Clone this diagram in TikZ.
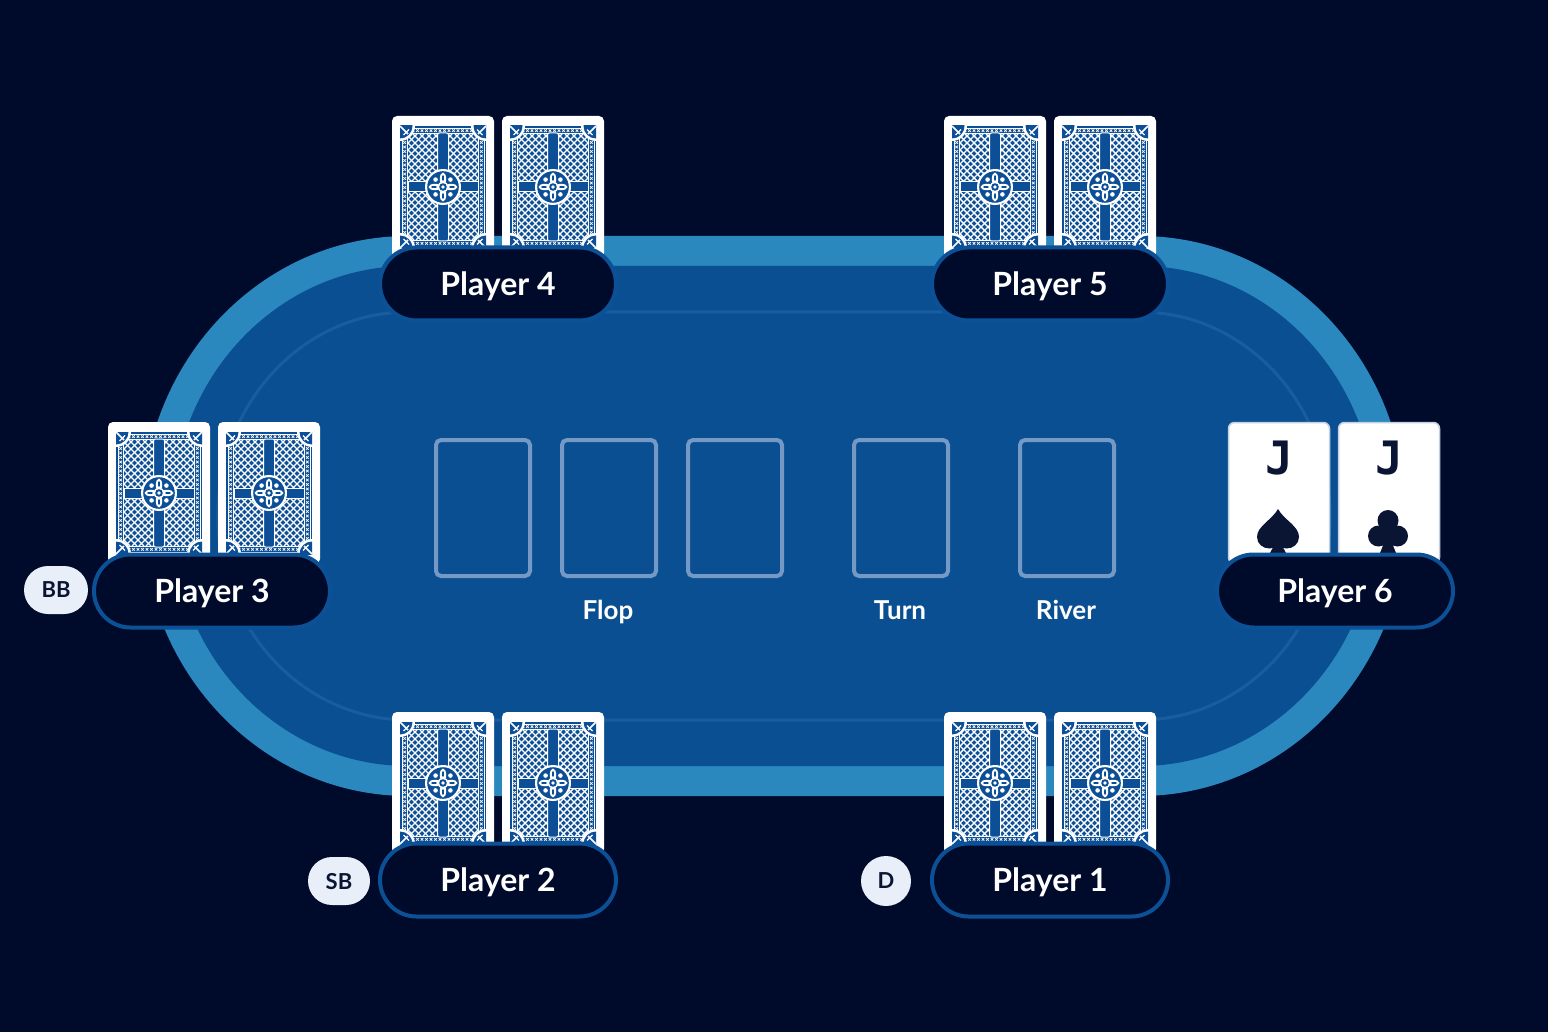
\documentclass[tikz,border=0pt]{standalone}
\usepackage{fontspec}
\setmainfont{Lato}
\newfontfamily\rankfont{DejaVu Sans Mono}
\usetikzlibrary{shapes.misc}
\definecolor{bg}{HTML}{000A2B}
\definecolor{rim}{HTML}{2A88BE}
\definecolor{felt}{HTML}{0B4F93}
\definecolor{feltline}{HTML}{1A5D9F}
\definecolor{pillfill}{HTML}{000A2B}
\definecolor{pilledge}{HTML}{0C5196}
\definecolor{cb}{HTML}{0D4F97}
\definecolor{slot}{HTML}{7499C4}
\definecolor{badgefill}{HTML}{E8EFF8}
\definecolor{ink}{HTML}{0A1433}
\definecolor{cardedge}{HTML}{C3D0E2}
\newcommand\tablepath[2]{(408,{516-#2}) -- (1140,{516-#2}) arc[start angle=270,end angle=450,x radius=#1,y radius=#2] -- (408,{516+#2}) arc[start angle=90,end angle=270,x radius=#1,y radius=#2] -- cycle}
\tikzset{
  pill/.style={rounded rectangle, draw=pilledge, line width=4pt, fill=pillfill, minimum width=236pt, minimum height=73pt, inner sep=0pt, text=white, text depth=0pt, font=\fontsize{32}{38}\selectfont\bfseries},
  slotbox/.style={draw=slot, line width=4pt, rounded corners=5pt, minimum width=94pt, minimum height=136pt, inner sep=0pt},
  lbl/.style={text=white, anchor=base, inner sep=0pt, font=\fontsize{26}{30}\selectfont\bfseries},
  badge/.style={rounded rectangle, fill=badgefill, text=ink, inner sep=0pt, text depth=0pt, font=\fontsize{22}{26}\selectfont\bfseries},
  jcard/.style={draw=cardedge, line width=1.5pt, fill=white, rounded corners=6pt, minimum width=101pt, minimum height=141pt, inner sep=0pt},
  rank/.style={text=ink, anchor=base, inner sep=0pt, font=\fontsize{46}{50}\rankfont\bfseries},
  cardback/.pic={
    \fill[white, rounded corners=5pt] (0,0) rectangle (102,142);
    \fill[cb] (8,10) rectangle (94,132);
    \draw[white, line width=0.9pt] (10,12) rectangle (92,130);
    \draw[white, line width=0.9pt] (15.5,17.5) rectangle (86.5,124.5);
    \foreach \t in {22,26.5,...,121} {
      \draw[white, line width=0.7pt] (12.7,\t) +(-1.3,-1.3) -- +(1.3,1.3) +(-1.3,1.3) -- +(1.3,-1.3);
      \draw[white, line width=0.7pt] (89.3,\t) +(-1.3,-1.3) -- +(1.3,1.3) +(-1.3,1.3) -- +(1.3,-1.3);
    }
    \foreach \t in {21,25.5,...,82} {
      \draw[white, line width=0.7pt] (\t,14.7) +(-1.3,-1.3) -- +(1.3,1.3) +(-1.3,1.3) -- +(1.3,-1.3);
      \draw[white, line width=0.7pt] (\t,127.3) +(-1.3,-1.3) -- +(1.3,1.3) +(-1.3,1.3) -- +(1.3,-1.3);
    }
    \begin{scope}
      \clip (16,18) rectangle (86,124);
      \foreach \s in {-91,-84,...,91} {
        \draw[white, line width=1.4pt] (\s,18) -- ++(106,106);
        \draw[white, line width=1.4pt] ({\s+102},18) -- ++(-106,106);
      }
    \end{scope}
    \begin{scope}
      \clip (8,10) rectangle (94,132);
      \foreach \cx/\cy/\dx/\dy in {8/10/1/1,94/10/-1/1,8/132/1/-1,94/132/-1/-1} {
        \fill[white] (\cx,\cy) circle (15);
        \fill[cb] (\cx,\cy) circle (12.5);
        \draw[white, line width=1.6pt] (\cx,\cy) -- ++({8*\dx},{8*\dy});
        \draw[white, line width=1.2pt] ({\cx+3.5*\dx},{\cy+9*\dy}) -- ({\cx+9*\dx},{\cy+3.5*\dy});
      }
    \end{scope}
    \filldraw[fill=cb, draw=white, line width=1pt, rounded corners=2pt] (45.5,17) rectangle (56.5,125);
    \filldraw[fill=cb, draw=white, line width=1pt] (16,66) rectangle (86,76);
    \fill[white] (51,71) circle (18);
    \fill[cb] (51,71) circle (15.8);
    \foreach \a in {0,90,180,270} {
      \fill[white, rotate around={\a:(51,71)}] (59,71) ellipse (6.5 and 3.2);
      \fill[cb, rotate around={\a:(51,71)}] (60,71) ellipse (3 and 1);
    }
    \foreach \a in {45,135,225,315} {
      \fill[white] (51,71) ++(\a:10.5) circle (2.3);
    }
    \fill[white] (51,71) circle (5.5);
    \fill[cb] (51,71) circle (3.8);
    \fill[white] (51,71) circle (1.8);
  }
}
\begin{document}
\begin{tikzpicture}[x=1pt, y=-1pt]
% background
\fill[bg] (0,0) rectangle (1548,1032);
\useasboundingbox (0,0) rectangle (1548,1032);
% table
\fill[rim] \tablepath{266}{280};
\fill[felt] \tablepath{236}{250};
\draw[feltline, line width=3pt] \tablepath{190}{204};
% board slots
\node[slotbox] (f1) at (483,508) {};
\node[slotbox] (f2) at (609,508) {};
\node[slotbox] (f3) at (735,508) {};
\node[slotbox] (turn) at (901,508) {};
\node[slotbox] (river) at (1067,508) {};
\node[lbl] (flopl) at (608,619) {Flop};
\node[lbl] (turnl) at (900,619) {Turn};
\node[lbl] (riverl) at (1066,619) {River};
% face-down cards
\pic at (392,116) {cardback};
\pic at (502,116) {cardback};
\pic at (944,116) {cardback};
\pic at (1054,116) {cardback};
\pic at (108,422) {cardback};
\pic at (218,422) {cardback};
\pic at (392,712) {cardback};
\pic at (502,712) {cardback};
\pic at (944,712) {cardback};
\pic at (1054,712) {cardback};
% face-up cards (Player 6)
\node[jcard] (jc1) at (1279,493) {};
\node[jcard] (jc2) at (1389,493) {};
\node[rank] (j1) at (1279,474) {J};
\node[rank] (j2) at (1389,474) {J};
% spade
\fill[ink] (1278,509) .. controls (1272,520) and (1257,526) .. (1257,537)
  .. controls (1257,544) and (1263,548.5) .. (1269.5,548.5)
  .. controls (1274,548.5) and (1277,545) .. (1278,543)
  .. controls (1279,545) and (1282,548.5) .. (1286.5,548.5)
  .. controls (1293,548.5) and (1299,544) .. (1299,537)
  .. controls (1299,526) and (1284,520) .. (1278,509) -- cycle;
\fill[ink] (1278,538) -- (1270,553) -- (1286,553) -- cycle;
% club
\fill[ink] (1388,520.5) circle (10.5);
\fill[ink] (1378.5,536) circle (10.5);
\fill[ink] (1397.5,536) circle (10.5);
\fill[ink] (1388,531) circle (6);
\fill[ink] (1388,533) -- (1380,553) -- (1396,553) -- cycle;
% player pills
\node[pill] (p4) at (498,284) {Player 4};
\node[pill] (p5) at (1050,284) {Player 5};
\node[pill] (p3) at (212,591) {Player 3};
\node[pill] (p6) at (1335,591) {Player 6};
\node[pill] (p2) at (498,880) {Player 2};
\node[pill] (p1) at (1050,880) {Player 1};
% badges
\node[badge, minimum width=64pt, minimum height=48pt] (bb) at (56,590) {BB};
\node[badge, minimum width=62pt, minimum height=48pt] (sb) at (339,881) {SB};
\node[circle, fill=badgefill, text=ink, inner sep=0pt, text depth=0pt, minimum size=50pt, font=\fontsize{22}{26}\selectfont\bfseries] (dl) at (886,881) {D};
\end{tikzpicture}
\end{document}
